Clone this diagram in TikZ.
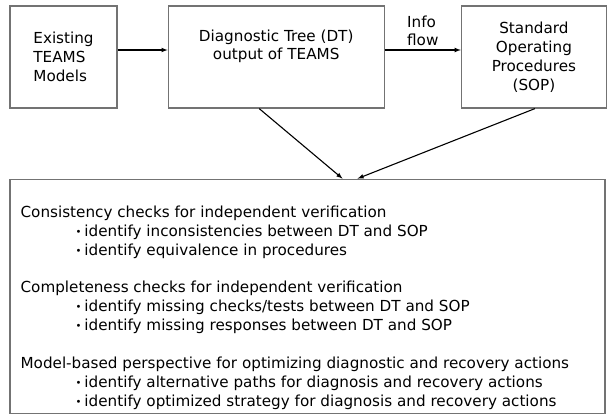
\documentclass[tikz,border=0pt]{standalone}
\usepackage{fontspec}
\setmainfont{DejaVu Sans}
\usetikzlibrary{positioning}
\tikzstyle{every node}=[font=\fontsize{15.2}{18.9}\selectfont]
\tikzstyle{block}=[draw=black!55, line width=1.2pt, inner sep=0pt, align=center]
\tikzstyle{flow}=[->, >=latex, line width=1.1pt]
\newcommand{\chkitem}{\hspace*{55pt}\raisebox{1pt}{\fontsize{10}{10}\selectfont\textbullet}\hspace{3pt}}

\begin{document}
\begin{tikzpicture}[x=1pt,y=1pt]
\useasboundingbox (0,0) rectangle (607,-415);
\node[block,minimum width=107pt,minimum height=102pt,align=left] (models) at (63.5,-57) {Existing\\TEAMS\\Models};
\node[block,minimum width=216pt,minimum height=102pt] (tree) [right=50pt of models] {Diagnostic Tree (DT)\\output of TEAMS\\\strut};
\node[block,minimum width=145pt,minimum height=102pt] (sop) [right=76pt of tree] {Standard\\Operating\\Procedures\\(SOP)};
\node[block,minimum width=595pt,minimum height=234pt] (checks) [below=70pt of models.south west,anchor=north west] {};
\node[anchor=north west,align=left,inner sep=0pt] (checklist) at ([xshift=11pt,yshift=-27pt]checks.north west)
  {Consistency checks for independent verification\\
   \chkitem identify inconsistencies between DT and SOP\\
   \chkitem identify equivalence in procedures\\[18.9pt]
   Completeness checks for independent verification\\
   \chkitem identify missing checks/tests between DT and SOP\\
   \chkitem identify missing responses between DT and SOP\\[18.9pt]
   Model-based perspective for optimizing diagnostic and recovery actions\\
   \chkitem identify alternative paths for diagnosis and recovery actions\\
   \chkitem identify optimized strategy for diagnosis and recovery actions};
\path[flow] ([yshift=7pt]models.east) edge ([yshift=7pt]tree.west)
            ([yshift=7pt]tree.east) edge node[above,align=left] {Info\\flow} ([yshift=7pt]sop.west)
            ([xshift=-17pt]tree.south) edge ([xshift=35pt]checks.north)
            ([xshift=1pt]sop.south) edge ([xshift=50pt]checks.north);
\end{tikzpicture}
\end{document}
